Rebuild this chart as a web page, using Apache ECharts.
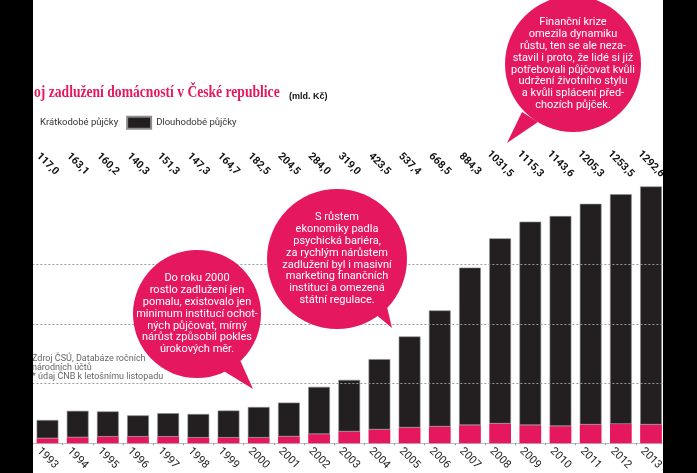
<!DOCTYPE html>
<html><head><meta charset="utf-8">
<script src="https://cdn.jsdelivr.net/npm/echarts@6.0.0/dist/echarts.min.js"></script>
<style>html,body{margin:0;padding:0;background:#fff}#c{width:697px;height:473px}</style>
</head><body><div id="c"></div>
<script>
const years = ['1993','1994','1995','1996','1997','1998','1999','2000','2001','2002','2003','2004','2005','2006','2007','2008','2009','2010','2011','2012','2013'];
const totals = [117.0,163.1,160.2,140.3,151.3,147.3,164.7,182.5,204.5,284.0,319.0,423.5,537.4,668.5,884.3,1031.5,1115.3,1143.6,1205.3,1253.5,1292.6];
const shortTerm = [25,30,33,33,33,28,28,28,34,46,59,69,79,84,91,99,91,86,94,97,94];
const longTerm = [92.0,133.1,127.2,107.3,118.3,119.3,136.7,154.5,170.5,238.0,260.0,354.5,458.4,584.5,793.3,932.5,1024.3,1057.6,1111.3,1156.5,1198.6];
const gridValues = [300,600,900];
const seriesNames = ['Krátkodobé půjčky','Dlouhodobé půjčky'];

const PINK = '#e5175f';
const DARK = '#231f20';
const NARROW = "'Liberation Sans Narrow','Roboto','Noto Sans',sans-serif";

const chart = echarts.init(document.getElementById('c'), null, {renderer:'canvas'});

function bubble(cx, cy, r, tail, text){
  return [
    {type:'polygon', z:50, shape:{points:tail}, style:{fill:PINK}, silent:true},
    {type:'circle', z:50, shape:{cx:cx, cy:cy, r:r}, style:{fill:PINK}, silent:true},
    {type:'text', z:51, x:cx, y:cy, silent:true, style:{text:text, fill:'#fff', font:'11px '+NARROW, align:'center', verticalAlign:'middle', lineHeight:11.8}}
  ];
}

const graphics = [].concat(
  bubble(197, 314, 64, [[222,370],[240,360],[253,389]],
    'Do roku 2000\nrostlo zadlužení jen\npomalu, existovalo jen\nminimum institucí ochot-\nných půjčovat, mírný\nnárůst způsobil pokles\núrokových měr.'),
  bubble(337, 259, 70, [[368,308],[384,294],[392,328]],
    'S růstem\nekonomiky padla\npsychická bariéra,\nza rychlým nárůstem\nzadlužení byl i masivní\nmarketing finančních\ninstitucí a omezená\nstátní regulace.'),
  bubble(573, 64, 68, [[522,112],[538,122],[507,143]],
    'Finanční krize\nomezila dynamiku\nrůstu, ten se ale neza-\nstavil i proto, že lidé si již\npotřebovali půjčovat kvůli\nudržení životního stylu\na kvůli splácení před-\nchozích půjček.'),
  [
    {type:'text', z:40, x:34, y:93, scaleX:0.8, silent:true, style:{text:'oj zadlužení domácností v České republice', fill:PINK, font:"bold 17px 'Liberation Serif',serif", verticalAlign:'middle'}},
    {type:'text', z:40, x:289, y:97, silent:true, style:{text:'(mld. Kč)', fill:'#111', font:"bold 9px 'Liberation Sans',sans-serif", verticalAlign:'middle'}},
    {type:'text', z:40, x:32, y:354, silent:true, style:{text:'Zdroj ČSÚ, Databáze ročních\nnárodních účtů\n* údaj ČNB k letošnímu listopadu', fill:'#666', font:'9px '+NARROW, lineHeight:9, verticalAlign:'top'}},
    {type:'rect', z:100, shape:{x:0,y:0,width:33,height:473}, style:{fill:'#000'}, silent:true},
    {type:'rect', z:100, shape:{x:663,y:0,width:34,height:473}, style:{fill:'#000'}, silent:true}
  ]
);

const option = {
  animation:false,
  backgroundColor:'#fff',
  grid:{left:32.4, right:30.9, top:185, bottom:28.5, containLabel:false},
  legend:{
    data:[
      {name:seriesNames[0], textStyle:{padding:[0,0,0,5]}},
      {name:seriesNames[1]}
    ],
    left:6, top:115.7, padding:0, itemWidth:24, itemHeight:12, itemGap:8, icon:'rect',
    textStyle:{fontSize:9.5, color:'#333', fontFamily:NARROW}},
  xAxis:[
    {type:'category', data:years, position:'bottom',
      axisLine:{lineStyle:{color:'#bdbdbd', width:1}},
      axisTick:{show:true, length:2, lineStyle:{color:'#999'}},
      axisLabel:{interval:0, rotate:-45, align:'center', verticalAlign:'middle', margin:15, fontSize:11, color:'#222', fontFamily:NARROW}},
    {type:'category', data:years, position:'top',
      axisLine:{show:false}, axisTick:{show:false},
      axisLabel:{interval:0, rotate:45, align:'center', verticalAlign:'middle', margin:21, fontSize:10.5, fontWeight:'bold', color:'#111', fontFamily:NARROW,
        formatter:function(v, i){ return totals[i].toFixed(1).replace('.', ','); }}}
  ],
  yAxis:{type:'value', min:0, max:1300, show:false, splitLine:{show:false}},
  series:[
    {type:'line', data:[], z:1, silent:true,
      markLine:{silent:true, symbol:'none', label:{show:false},
        lineStyle:{color:'#9a9a9a', type:[2,2], width:1},
        data:gridValues.map(function(v){ return {yAxis:v}; })}},
    {name:seriesNames[0], type:'bar', stack:'a', data:shortTerm, barWidth:'72%', z:3,
      itemStyle:{color:PINK}},
    {name:seriesNames[1], type:'bar', stack:'a', data:longTerm, barWidth:'72%', z:3,
      itemStyle:{color:DARK, borderColor:'#8c8c8c', borderWidth:0.6}}
  ],
  graphic:graphics
};
chart.setOption(option);
</script>
</body></html>
